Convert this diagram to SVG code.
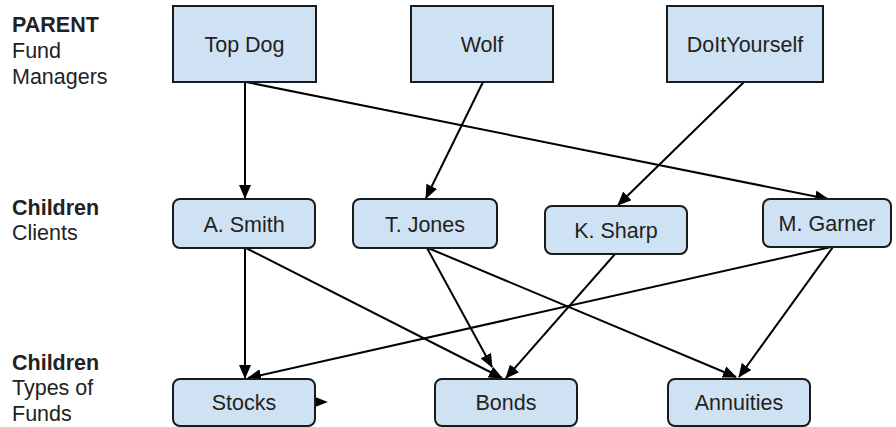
<svg xmlns="http://www.w3.org/2000/svg" width="896" height="427" viewBox="0 0 896 427">
<defs>
<marker id="arr" markerUnits="userSpaceOnUse" markerWidth="14" markerHeight="12" viewBox="0 0 14 12" refX="13" refY="6" orient="auto">
<path d="M0,0 L14,6 L0,12 Z" fill="#000"/>
</marker>
</defs>
<style>
.lbl{font-family:"Liberation Sans",Arial,sans-serif;font-size:21.5px;fill:#222}
.b{font-weight:bold}
.box{fill:#cfe2f3;stroke:#1a1a1a;stroke-width:2}
.nt{font-family:"Liberation Sans",Arial,sans-serif;font-size:21.5px;fill:#222;text-anchor:middle}
.c{stroke:#000;stroke-width:2;fill:none;marker-end:url(#arr)}
</style>
<rect width="896" height="427" fill="#fff"/>
<g id="labels">
<text class="lbl b" x="12" y="32">PARENT</text>
<text class="lbl" x="12" y="58">Fund</text>
<text class="lbl" x="12" y="84">Managers</text>
<text class="lbl b" x="12" y="215">Children</text>
<text class="lbl" x="12" y="240">Clients</text>
<text class="lbl b" x="12" y="370">Children</text>
<text class="lbl" x="12" y="395">Types of</text>
<text class="lbl" x="12" y="421">Funds</text>
</g>
<g id="connectors">
<line class="c" x1="245" y1="82" x2="245" y2="198"/>
<line class="c" x1="246" y1="82" x2="828" y2="199"/>
<line class="c" x1="483" y1="82" x2="426" y2="198"/>
<line class="c" x1="744" y1="82" x2="618" y2="205"/>
<line class="c" x1="245" y1="248" x2="245" y2="378"/>
<line class="c" x1="246" y1="248" x2="502" y2="378"/>
<line class="c" x1="427" y1="248" x2="492" y2="367"/>
<line class="c" x1="428" y1="248" x2="736" y2="377"/>
<line class="c" x1="615" y1="254" x2="506" y2="378"/>
<line class="c" x1="831" y1="247" x2="248" y2="378"/>
<line class="c" x1="833" y1="247" x2="739" y2="377"/>
<path d="M315,397 L328,402 L315,407 Z" fill="#000"/>
</g>
<g id="topdog"><rect class="box" x="173" y="6" width="143" height="76"/><text class="nt" x="244.5" y="52">Top Dog</text></g>
<g id="wolf"><rect class="box" x="411" y="6" width="142" height="76"/><text class="nt" x="482" y="52">Wolf</text></g>
<g id="doityourself"><rect class="box" x="667" y="6" width="156" height="76"/><text class="nt" x="745" y="52">DoItYourself</text></g>
<g id="asmith"><rect class="box" x="173" y="199" width="142" height="49" rx="7"/><text class="nt" x="244" y="232">A. Smith</text></g>
<g id="tjones"><rect class="box" x="353" y="199" width="144" height="49" rx="7"/><text class="nt" x="425" y="232">T. Jones</text></g>
<g id="ksharp"><rect class="box" x="545" y="206" width="142" height="48" rx="7"/><text class="nt" x="616" y="238">K. Sharp</text></g>
<g id="mgarner"><rect class="box" x="763" y="199" width="128" height="48" rx="7"/><text class="nt" x="827" y="231">M. Garner</text></g>
<g id="stocks"><rect class="box" x="173" y="379" width="142" height="47" rx="7"/><text class="nt" x="244" y="410">Stocks</text></g>
<g id="bonds"><rect class="box" x="435" y="379" width="142" height="47" rx="7"/><text class="nt" x="506" y="410">Bonds</text></g>
<g id="annuities"><rect class="box" x="668" y="379" width="142" height="47" rx="7"/><text class="nt" x="739" y="410">Annuities</text></g>
</svg>
